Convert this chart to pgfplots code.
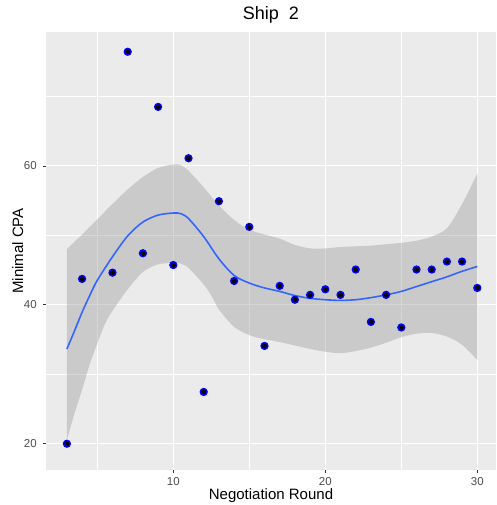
\documentclass[border=0pt]{standalone}
\usepackage{fontspec}
\setmainfont{Liberation Sans}
\usepackage{pgfplots}
\pgfplotsset{compat=1.18}
\usepgfplotslibrary{fillbetween}
\definecolor{ggbg}{HTML}{EBEBEB}
\definecolor{ggblue}{HTML}{3366FF}
\definecolor{ggband}{HTML}{999999}
\definecolor{ticktext}{HTML}{4D4D4D}
\definecolor{tickline}{HTML}{333333}
\begin{document}
\begin{tikzpicture}
\begin{axis}[
 at={(0pt,0pt)}, anchor=south west,
 scale only axis, width=450pt, height=438pt,
 xmin=1.625, xmax=31.23, ymin=16.15, ymax=79.3,
 axis line style={draw=none},
 axis background/.style={fill=ggbg},
 xtick={10,20,30}, ytick={20,40,60},
 minor xtick={5,15,25}, minor ytick={30,50,70},
 grid=both,
 major grid style={white, line width=1.1pt},
 minor grid style={white, line width=0.55pt},
 tick pos=left,
 tick align=outside, major tick length=2.75pt, minor tick length=0pt,
 tick style={tickline, line width=0.5pt},
 ticklabel style={font=\fontsize{11.5}{13}\selectfont, text=ticktext},
 yticklabel style={xshift=-3pt},
 xticklabel style={yshift=-1pt},
 /pgf/number format/assume math mode=true,
 title={Ship\ \ 2},
 title style={font=\fontsize{18}{20}\selectfont, at={(axis description cs:0.5,1)}, anchor=base, yshift=6pt},
 xlabel={Negotiation Round},
 xlabel style={font=\fontsize{15}{17}\selectfont, at={(axis description cs:0.5,0)}, anchor=base, yshift=-29.3pt},
 ylabel={Minimal CPA},
 ylabel style={font=\fontsize{15}{17}\selectfont, at={(axis description cs:-0.0511,0.5)}, anchor=base},
]
\addplot[name path=up, draw=none, smooth, forget plot] coordinates {
(3,48.0) (4,50.1) (5,52.3) (6,54.5) (7,56.6) (8,58.4) (9,59.7) (10,60.2) (10.5,60.1) (11,59.3) (12,56.9) (13,54.3) (14,52.2) (15,50.8) (16,50.1) (17,49.5) (18,48.6) (19,48.1) (20,48.1) (21,48.3) (22,48.4) (23,48.5) (24,48.7) (25,48.9) (26,49.2) (27,49.8) (28,51.0) (29,54.5) (30,58.9)
};
\addplot[name path=lo, draw=none, smooth, forget plot] coordinates {
(3,20.5) (3.5,24.3) (4,27.7) (4.5,31.4) (5,34.4) (5.5,37.2) (6,39.1) (7,42.2) (8,44.7) (9,45.8) (10,46.0) (10.5,45.9) (11,45.3) (12,42.9) (12.5,41.3) (13,39.3) (14,36.8) (15,35.6) (16,35.0) (17,34.6) (18,34.1) (19,33.6) (20,33.2) (21,33.0) (22,33.3) (23,33.8) (24,34.5) (25,35.3) (26,35.8) (27,35.9) (28,35.4) (29,34.2) (30,32.0)
};
\addplot[fill=ggband, fill opacity=0.4, draw=none, forget plot] fill between[of=up and lo];
\addplot[ggblue, line width=1.6pt, smooth] coordinates {
(3,33.6) (3.5,36.2) (4,38.9) (4.5,41.3) (5,43.5) (6,46.9) (7,49.9) (8,51.9) (9,52.9) (10,53.2) (10.5,53.1) (11,52.4) (12,49.8) (13,46.6) (14,44.2) (15,43.1) (16,42.4) (17,41.9) (18,41.3) (19,40.9) (20,40.7) (21,40.6) (22,40.7) (23,41.0) (24,41.4) (25,41.9) (26,42.6) (27,43.3) (28,44.0) (29,44.8) (30,45.5)
};
\addplot[only marks, mark=*, mark size=3.4pt, mark options={draw=blue, fill=black, line width=1.4pt}] coordinates {
(3,19.94) (4,43.7) (6,44.6) (7,76.45) (8,47.4) (9,68.5) (10,45.7) (11,61.1) (12,27.4) (13,54.9) (14,43.4) (15,51.2) (16,34.04) (17,42.7) (18,40.7) (19,41.4) (20,42.2) (21,41.4) (22,45.05) (23,37.5) (24,41.4) (25,36.7) (26,45.05) (27,45.05) (28,46.2) (29,46.2) (30,42.4)
};
\end{axis}
\pgfresetboundingbox
\useasboundingbox (-46pt,-35pt) rectangle (450pt,470pt);
\end{tikzpicture}
\end{document}
